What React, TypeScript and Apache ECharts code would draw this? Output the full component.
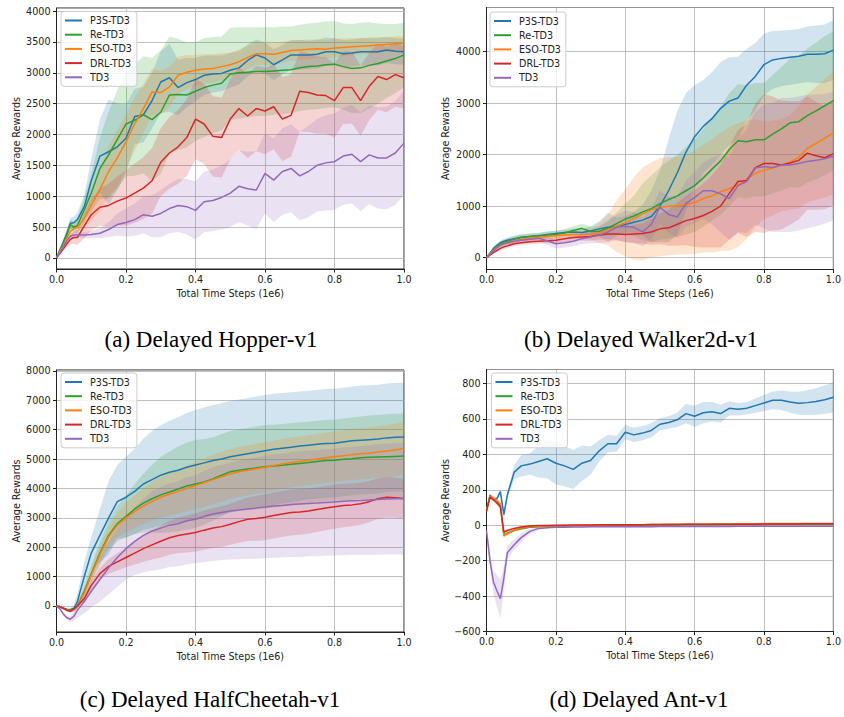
import React, { useEffect, useRef } from "react";
import * as echarts from "echarts";

// ---------- shared x grid (total time steps, 1e6) ----------
const X = [0, 0.01, 0.02, 0.03, 0.04, 0.05, 0.06, 0.08, 0.1, 0.125, 0.15, 0.175, 0.2, 0.225, 0.25, 0.275, 0.3, 0.325, 0.35, 0.375, 0.4, 0.425, 0.45, 0.475, 0.5, 0.525, 0.55, 0.575, 0.6, 0.625, 0.65, 0.675, 0.7, 0.725, 0.75, 0.775, 0.8, 0.825, 0.85, 0.875, 0.9, 0.925, 0.95, 0.975, 1];

const METHODS = ["P3S-TD3", "Re-TD3", "ESO-TD3", "DRL-TD3", "TD3"];
const COLORS = ["#1f77b4", "#2ca02c", "#ff7f0e", "#d62728", "#9467bd"];
const CAPTIONS = ["(a) Delayed Hopper-v1", "(b) Delayed Walker2d-v1", "(c) Delayed HalfCheetah-v1", "(d) Delayed Ant-v1"];
const X_TITLE = "Total Time Steps (1e6)";
const Y_TITLE = "Average Rewards";

// ---------- (a) Hopper ----------
const A_P3S_MEAN = [0, 130, 260, 400, 560, 570, 620, 830, 1250, 1650, 1720, 1800, 1940, 2290, 2320, 2550, 2850, 2920, 2760, 2840, 2890, 2960, 2980, 2990, 3040, 3080, 3200, 3290, 3240, 3130, 3210, 3290, 3290, 3290, 3300, 3340, 3340, 3310, 3320, 3340, 3340, 3340, 3370, 3350, 3340];
const A_P3S_SD = [0, 30, 50, 70, 90, 100, 110, 200, 350, 600, 850, 700, 550, 450, 450, 450, 500, 550, 450, 400, 350, 320, 300, 290, 280, 270, 260, 250, 250, 250, 240, 240, 240, 230, 230, 230, 220, 220, 220, 220, 220, 220, 210, 210, 210];
const A_RE_MEAN = [0, 120, 240, 380, 540, 500, 520, 780, 1050, 1450, 1670, 1920, 2170, 2230, 2320, 2240, 2360, 2640, 2650, 2640, 2700, 2760, 2800, 2830, 2980, 3000, 3010, 3020, 3020, 3030, 3040, 3050, 3080, 3100, 3110, 3130, 3140, 3100, 3070, 3080, 3120, 3150, 3190, 3230, 3290];
const A_RE_SD = [0, 30, 50, 70, 80, 90, 120, 200, 300, 500, 700, 800, 850, 900, 950, 1000, 1000, 950, 900, 850, 800, 800, 780, 760, 750, 740, 730, 720, 720, 710, 710, 700, 700, 700, 700, 700, 700, 700, 720, 730, 700, 650, 600, 560, 520];
const A_ESO_MEAN = [0, 100, 200, 320, 430, 470, 490, 640, 850, 1110, 1400, 1620, 1880, 2170, 2420, 2690, 2680, 2770, 2960, 3010, 3040, 3060, 3070, 3100, 3130, 3180, 3250, 3310, 3310, 3300, 3330, 3360, 3370, 3380, 3390, 3380, 3400, 3410, 3420, 3430, 3440, 3450, 3460, 3470, 3480];
const A_ESO_SD = [0, 20, 40, 50, 60, 70, 80, 150, 250, 350, 400, 450, 450, 430, 400, 380, 350, 330, 300, 280, 250, 240, 230, 220, 200, 195, 190, 185, 180, 175, 170, 165, 160, 160, 155, 150, 150, 145, 140, 135, 130, 125, 120, 120, 120];
const A_DRL_MEAN = [0, 70, 150, 230, 300, 330, 330, 520, 700, 820, 850, 920, 970, 1050, 1130, 1250, 1550, 1700, 1800, 1950, 2250, 2170, 1970, 1950, 2250, 2420, 2300, 2420, 2380, 2450, 2250, 2310, 2700, 2680, 2640, 2630, 2550, 2760, 2760, 2550, 2780, 2940, 2890, 2970, 2920];
const A_DRL_SD = [0, 20, 40, 60, 80, 100, 120, 200, 250, 300, 350, 400, 450, 480, 500, 530, 550, 580, 600, 620, 650, 650, 650, 650, 650, 670, 680, 690, 700, 690, 680, 670, 650, 640, 630, 620, 600, 590, 580, 570, 550, 540, 530, 520, 500];
const A_TD3_MEAN = [0, 80, 180, 280, 350, 370, 370, 370, 380, 400, 460, 540, 575, 620, 700, 675, 720, 800, 850, 830, 770, 910, 930, 980, 1050, 1160, 1120, 1100, 1370, 1260, 1400, 1450, 1330, 1400, 1500, 1540, 1560, 1650, 1680, 1560, 1670, 1620, 1620, 1700, 1860];
const A_TD3_SD = [0, 10, 20, 30, 40, 40, 40, 50, 60, 80, 120, 180, 230, 260, 300, 340, 380, 400, 430, 450, 470, 490, 500, 520, 550, 580, 600, 630, 650, 680, 700, 710, 720, 740, 750, 770, 780, 790, 800, 800, 800, 820, 830, 840, 850];

// ---------- (b) Walker2d ----------
const B_P3S_MEAN = [0, 90, 180, 240, 290, 320, 340, 370, 395, 410, 425, 450, 470, 490, 500, 490, 520, 560, 590, 600, 645, 690, 730, 800, 1000, 1300, 1650, 2050, 2350, 2550, 2700, 2900, 3040, 3100, 3350, 3520, 3750, 3840, 3870, 3890, 3910, 3950, 3950, 3960, 4030];
const B_P3S_SD = [0, 15, 30, 40, 45, 50, 50, 55, 55, 55, 55, 55, 55, 55, 60, 70, 90, 150, 280, 180, 160, 200, 300, 500, 700, 1000, 1200, 1150, 1000, 900, 900, 900, 850, 800, 700, 650, 600, 560, 540, 530, 530, 540, 560, 570, 580];
const B_RE_MEAN = [0, 80, 160, 220, 270, 300, 320, 360, 390, 410, 420, 440, 455, 480, 530, 570, 510, 515, 575, 660, 750, 810, 890, 950, 1050, 1130, 1200, 1300, 1400, 1550, 1720, 1880, 2100, 2270, 2250, 2290, 2290, 2400, 2500, 2620, 2640, 2760, 2850, 2950, 3050];
const B_RE_SD = [0, 15, 30, 40, 45, 50, 55, 60, 60, 65, 65, 70, 70, 75, 80, 90, 90, 100, 150, 220, 300, 400, 550, 650, 700, 750, 800, 850, 900, 950, 1000, 1050, 1100, 1100, 1100, 1100, 1100, 1150, 1200, 1250, 1280, 1300, 1330, 1350, 1350];
const B_ESO_MEAN = [0, 70, 140, 200, 240, 270, 290, 330, 360, 380, 395, 410, 425, 440, 450, 450, 455, 480, 540, 610, 680, 760, 850, 930, 980, 1000, 1010, 1030, 1070, 1150, 1200, 1280, 1340, 1410, 1520, 1640, 1700, 1740, 1800, 1850, 1950, 2120, 2220, 2320, 2420];
const B_ESO_SD = [0, 10, 20, 30, 35, 40, 40, 45, 45, 45, 50, 50, 55, 60, 70, 80, 100, 200, 300, 500, 650, 800, 900, 920, 950, 950, 950, 970, 1000, 1050, 1100, 1150, 1200, 1200, 1150, 1050, 950, 920, 900, 920, 1000, 1050, 1100, 1150, 1200];
const B_DRL_MEAN = [0, 50, 100, 140, 180, 210, 230, 270, 290, 310, 320, 330, 340, 370, 390, 400, 410, 440, 460, 460, 450, 460, 470, 500, 560, 580, 650, 720, 760, 820, 900, 1000, 1250, 1480, 1500, 1750, 1830, 1830, 1800, 1840, 1890, 2030, 1980, 1940, 2020];
const B_DRL_SD = [0, 10, 20, 30, 35, 40, 40, 45, 45, 50, 50, 50, 55, 60, 60, 70, 80, 90, 100, 120, 150, 180, 200, 250, 300, 350, 420, 480, 550, 620, 700, 800, 900, 1000, 1100, 1250, 1350, 1300, 1250, 1200, 1150, 1100, 1050, 1000, 1000];
const B_TD3_MEAN = [0, 60, 130, 190, 240, 270, 290, 320, 340, 360, 380, 330, 270, 290, 320, 370, 400, 440, 500, 590, 610, 590, 500, 650, 980, 840, 790, 1050, 1170, 1300, 1300, 1240, 1150, 1400, 1480, 1740, 1770, 1750, 1800, 1800, 1830, 1870, 1890, 1920, 1970];
const B_TD3_SD = [0, 10, 20, 30, 40, 45, 50, 55, 60, 60, 70, 80, 90, 90, 100, 110, 120, 150, 200, 250, 300, 300, 280, 300, 320, 350, 400, 450, 500, 550, 650, 750, 800, 900, 1000, 1100, 1200, 1250, 1300, 1300, 1300, 1300, 1280, 1260, 1250];

// ---------- (c) HalfCheetah ----------
const C_P3S_MEAN = [0, -30, -80, -120, -130, -80, 150, 1000, 1800, 2400, 3000, 3550, 3700, 3900, 4150, 4300, 4450, 4550, 4620, 4720, 4800, 4870, 4950, 5000, 5080, 5130, 5180, 5230, 5280, 5330, 5370, 5400, 5440, 5470, 5500, 5530, 5540, 5580, 5620, 5640, 5660, 5680, 5720, 5740, 5750];
const C_P3S_SD = [0, 20, 40, 60, 70, 100, 250, 500, 550, 900, 1250, 1250, 1380, 1450, 1550, 1650, 1700, 1750, 1800, 1850, 1870, 1880, 1890, 1900, 1900, 1900, 1900, 1900, 1900, 1890, 1880, 1870, 1860, 1850, 1850, 1850, 1850, 1850, 1850, 1850, 1850, 1850, 1850, 1850, 1850];
const C_RE_MEAN = [0, -30, -80, -120, -150, -120, 0, 500, 1100, 1800, 2400, 2800, 3050, 3300, 3500, 3650, 3780, 3880, 3980, 4080, 4150, 4220, 4320, 4450, 4570, 4620, 4660, 4700, 4740, 4760, 4790, 4820, 4850, 4880, 4920, 4950, 4960, 4990, 5010, 5040, 5060, 5070, 5080, 5090, 5100];
const C_RE_SD = [0, 20, 30, 40, 50, 60, 100, 200, 300, 400, 500, 600, 700, 850, 1000, 1150, 1300, 1380, 1450, 1480, 1500, 1460, 1420, 1400, 1380, 1390, 1400, 1410, 1420, 1410, 1400, 1400, 1400, 1390, 1380, 1380, 1380, 1390, 1400, 1410, 1420, 1430, 1440, 1450, 1450];
const C_ESO_MEAN = [0, -30, -90, -140, -170, -130, -20, 450, 1050, 1750, 2350, 2750, 3000, 3220, 3400, 3560, 3700, 3800, 3900, 4000, 4100, 4200, 4300, 4400, 4500, 4570, 4620, 4670, 4720, 4780, 4830, 4880, 4920, 4960, 5000, 5040, 5080, 5110, 5150, 5180, 5200, 5240, 5270, 5310, 5360];
const C_ESO_SD = [0, 20, 30, 40, 50, 60, 80, 150, 200, 280, 350, 420, 500, 560, 620, 660, 700, 730, 760, 780, 800, 820, 840, 850, 850, 850, 850, 850, 850, 850, 850, 850, 850, 850, 850, 855, 860, 860, 865, 865, 870, 880, 890, 900, 900];
const C_DRL_MEAN = [0, -30, -80, -150, -180, -100, 0, 250, 700, 1100, 1350, 1500, 1650, 1800, 1950, 2080, 2200, 2320, 2400, 2450, 2500, 2580, 2650, 2700, 2780, 2870, 2950, 2980, 3020, 3080, 3130, 3180, 3200, 3230, 3280, 3330, 3380, 3420, 3440, 3480, 3550, 3650, 3700, 3680, 3660];
const C_DRL_SD = [0, 20, 30, 40, 50, 50, 50, 100, 150, 200, 250, 290, 330, 390, 450, 500, 550, 580, 600, 630, 650, 670, 680, 690, 700, 720, 740, 760, 780, 780, 780, 780, 780, 770, 760, 755, 750, 740, 730, 720, 700, 690, 690, 680, 680];
const C_TD3_MEAN = [0, -100, -280, -400, -450, -350, -150, 150, 500, 900, 1300, 1650, 1950, 2200, 2400, 2550, 2650, 2750, 2800, 2900, 2950, 3050, 3130, 3180, 3230, 3270, 3300, 3330, 3370, 3400, 3420, 3450, 3470, 3490, 3500, 3520, 3540, 3560, 3580, 3590, 3610, 3620, 3640, 3650, 3650];
const C_TD3_SD = [0, 30, 60, 80, 100, 150, 250, 400, 550, 750, 900, 1000, 1050, 1150, 1250, 1350, 1400, 1420, 1450, 1480, 1500, 1550, 1600, 1620, 1650, 1680, 1700, 1720, 1750, 1760, 1770, 1780, 1800, 1800, 1810, 1815, 1820, 1830, 1840, 1850, 1870, 1880, 1890, 1900, 1900];

// ---------- (d) Ant ----------
const D_P3S_MEAN = [80, 170, 145, 150, 190, 60, 170, 300, 335, 345, 360, 375, 350, 335, 315, 350, 365, 420, 460, 460, 525, 510, 520, 535, 570, 580, 595, 630, 615, 635, 640, 630, 660, 655, 660, 675, 690, 705, 705, 695, 688, 692, 698, 708, 722];
const D_P3S_SD = [5, 10, 10, 10, 10, 15, 20, 40, 60, 60, 90, 110, 120, 115, 110, 100, 80, 60, 50, 45, 40, 40, 40, 40, 35, 35, 40, 55, 60, 60, 55, 50, 40, 35, 35, 40, 45, 50, 55, 60, 65, 70, 75, 80, 85];
const D_RE_MEAN = [85, 160, 148, 130, 110, -55, -45, -30, -20, -12, -8, -6, -5, -4, -3, -3, -2, -2, -1, -1, 0, 0, 0, 1, 1, 1, 2, 2, 2, 3, 3, 3, 3, 4, 4, 4, 4, 5, 5, 5, 5, 5, 6, 6, 6];
const D_RE_SD = [5, 10, 12, 12, 12, 10, 8, 6, 5, 3, 3, 3, 3, 3, 3, 3, 3, 3, 3, 3, 3, 3, 3, 3, 3, 3, 3, 3, 3, 3, 3, 3, 3, 3, 3, 3, 3, 3, 3, 3, 3, 3, 3, 3, 3];
const D_ESO_MEAN = [80, 165, 152, 140, 120, -60, -48, -28, -16, -9, -6, -4, -3, -2, -1, 0, 0, 1, 1, 2, 2, 3, 3, 4, 4, 5, 5, 6, 6, 6, 7, 7, 7, 8, 8, 8, 9, 9, 9, 9, 10, 10, 10, 10, 10];
const D_ESO_SD = [5, 12, 14, 14, 14, 12, 10, 8, 6, 4, 4, 4, 4, 4, 4, 4, 4, 4, 4, 4, 4, 4, 4, 4, 4, 4, 4, 4, 4, 4, 4, 4, 4, 4, 4, 4, 4, 4, 4, 4, 4, 4, 4, 4, 4];
const D_DRL_MEAN = [80, 158, 145, 125, 105, -38, -30, -18, -10, -5, -2, -1, 0, 0, 1, 1, 1, 2, 2, 2, 3, 3, 3, 4, 4, 4, 4, 5, 5, 5, 5, 6, 6, 6, 6, 6, 7, 7, 7, 7, 7, 8, 8, 8, 8];
const D_DRL_SD = [5, 10, 12, 12, 12, 10, 8, 6, 5, 3, 3, 3, 3, 3, 3, 3, 3, 3, 3, 3, 3, 3, 3, 3, 3, 3, 3, 3, 3, 3, 3, 3, 3, 3, 3, 3, 3, 3, 3, 3, 3, 3, 3, 3, 3];
const D_TD3_MEAN = [-30, -200, -320, -370, -415, -300, -155, -110, -70, -35, -18, -14, -12, -11, -10, -10, -9, -9, -9, -8, -8, -8, -8, -8, -7, -7, -7, -7, -7, -7, -7, -7, -7, -6, -6, -6, -6, -6, -6, -6, -6, -6, -6, -6, -6];
const D_TD3_SD = [10, 40, 60, 90, 110, 70, 40, 30, 25, 15, 8, 5, 3, 3, 3, 3, 3, 3, 3, 3, 3, 3, 3, 3, 3, 3, 3, 3, 3, 3, 3, 3, 3, 3, 3, 3, 3, 3, 3, 3, 3, 3, 3, 3, 3];

const MEANS = [
  [A_P3S_MEAN, A_RE_MEAN, A_ESO_MEAN, A_DRL_MEAN, A_TD3_MEAN],
  [B_P3S_MEAN, B_RE_MEAN, B_ESO_MEAN, B_DRL_MEAN, B_TD3_MEAN],
  [C_P3S_MEAN, C_RE_MEAN, C_ESO_MEAN, C_DRL_MEAN, C_TD3_MEAN],
  [D_P3S_MEAN, D_RE_MEAN, D_ESO_MEAN, D_DRL_MEAN, D_TD3_MEAN],
];
const SDS = [
  [A_P3S_SD, A_RE_SD, A_ESO_SD, A_DRL_SD, A_TD3_SD],
  [B_P3S_SD, B_RE_SD, B_ESO_SD, B_DRL_SD, B_TD3_SD],
  [C_P3S_SD, C_RE_SD, C_ESO_SD, C_DRL_SD, C_TD3_SD],
  [D_P3S_SD, D_RE_SD, D_ESO_SD, D_DRL_SD, D_TD3_SD],
];

// axis ranges and tick steps per panel
const Y_MIN = [-180, -229, -886, -600];
const Y_MAX = [4050, 4858, 8030, 879];
const Y_STEP = [500, 1000, 1000, 200];

// layout (px)
const GRIDS = [
  { left: 56.5, top: 8, width: 347.5, height: 261 },
  { left: 486.5, top: 7.5, width: 347, height: 262 },
  { left: 56.5, top: 370, width: 347.5, height: 262 },
  { left: 486.5, top: 369.5, width: 347, height: 262 },
];
const LEGEND_POS = [
  [61, 11.5],
  [490, 12],
  [61, 373],
  [491.5, 373],
];
const Y_NAME_GAP = [35, 36, 35.5, 36];
const CAPTION_POS = [
  [211, 339],
  [641, 339],
  [210, 699],
  [639, 699],
];

const FONT = "DejaVu Sans";
const FS = 9.6;
const BAND_ALPHA = 0.2;

function hexToRgba(hex: string, a: number) {
  const n = parseInt(hex.slice(1), 16);
  return `rgba(${(n >> 16) & 255},${(n >> 8) & 255},${n & 255},${a})`;
}

export default function App() {
  const ref = useRef<HTMLDivElement>(null);
  useEffect(() => {
    if (!ref.current) return;
    const chart = echarts.init(ref.current, undefined, { renderer: "svg" });

    const series: any[] = [];
    for (let p = 0; p < 4; p++) {
      for (let s = 0; s < METHODS.length; s++) {
        const mean = MEANS[p][s];
        const sd = SDS[p][s];
        const lo = mean.map((m, i) => m - sd[i]);
        const hi = mean.map((m, i) => m + sd[i]);
        const fill = hexToRgba(COLORS[s], BAND_ALPHA);
        series.push({
          type: "custom",
          name: `${METHODS[s]} band ${p}`,
          xAxisIndex: p,
          yAxisIndex: p,
          silent: true,
          z: 1,
          data: X.map((x, i) => [x, lo[i], hi[i]]),
          encode: { x: 0, y: [1, 2] },
          renderItem: (params: any, api: any) => {
            if (params.dataIndex !== 0) return null;
            const pts: number[][] = [];
            for (let i = 0; i < X.length; i++) pts.push(api.coord([X[i], hi[i]]));
            for (let i = X.length - 1; i >= 0; i--) pts.push(api.coord([X[i], lo[i]]));
            return {
              type: "polygon",
              shape: { points: pts },
              style: { fill, stroke: "none" },
              silent: true,
            };
          },
        });
      }
      for (let s = 0; s < METHODS.length; s++) {
        const mean = MEANS[p][s];
        series.push({
          type: "line",
          name: METHODS[s],
          xAxisIndex: p,
          yAxisIndex: p,
          data: X.map((x, i) => [x, mean[i]]),
          symbol: "none",
          lineStyle: { width: 1.5, color: COLORS[s] },
          itemStyle: { color: COLORS[s] },
          z: 3,
        });
      }
    }

    const axisText = { fontFamily: FONT, fontSize: FS, color: "#222" };

    const option: any = {
      animation: false,
      backgroundColor: "#ffffff",
      textStyle: { fontFamily: FONT },
      grid: GRIDS.map((g) => ({
        ...g,
        show: true,
        borderColor: "#222",
        borderWidth: 1,
        backgroundColor: "transparent",
        containLabel: false,
      })),
      xAxis: GRIDS.map((_, p) => ({
        type: "value",
        gridIndex: p,
        min: 0,
        max: 1,
        interval: 0.2,
        name: X_TITLE,
        nameLocation: "middle",
        nameGap: 19,
        nameTextStyle: axisText,
        axisLine: { show: true, onZero: false, lineStyle: { color: "#222", width: 1 } },
        axisTick: { show: true, length: 3.5, lineStyle: { color: "#222" } },
        axisLabel: { ...axisText, margin: 5, formatter: (v: number) => v.toFixed(1) },
        splitLine: { show: true, lineStyle: { color: "#b0b0b0", width: 0.8 } },
      })),
      yAxis: GRIDS.map((_, p) => ({
        type: "value",
        gridIndex: p,
        min: Y_MIN[p],
        max: Y_MAX[p],
        minInterval: Y_STEP[p],
        maxInterval: Y_STEP[p],
        name: Y_TITLE,
        nameLocation: "middle",
        nameGap: Y_NAME_GAP[p],
        nameTextStyle: axisText,
        axisLine: { show: true, onZero: false, lineStyle: { color: "#222", width: 1 } },
        axisTick: { show: true, length: 3.5, lineStyle: { color: "#222" } },
        axisLabel: {
          ...axisText,
          margin: 6,
          showMinLabel: Y_MIN[p] % Y_STEP[p] === 0,
          showMaxLabel: Y_MAX[p] % Y_STEP[p] === 0,
          formatter: (v: number) => String(v).replace("-", "\u2212"),
        },
        splitLine: { show: true, lineStyle: { color: "#b0b0b0", width: 0.8 } },
      })),
      legend: LEGEND_POS.map(([l, t]) => ({
        data: METHODS,
        orient: "vertical",
        left: l,
        top: t,
        icon: "path://M0,0L17,0L17,2L0,2Z",
        itemWidth: 17,
        itemHeight: 10,
        itemGap: 2.2,
        padding: [3, 5, 3, 4],
        backgroundColor: "rgba(255,255,255,0.8)",
        borderColor: "#cccccc",
        borderWidth: 1,
        borderRadius: 3,
        selectedMode: false,
        textStyle: { fontFamily: FONT, fontSize: FS, color: "#222", lineHeight: 12, padding: [0, 0, 0, 3] },
      })),
      graphic: CAPTIONS.map((c, i) => ({
        type: "text",
        x: CAPTION_POS[i][0],
        y: CAPTION_POS[i][1],
        style: {
          text: c,
          fill: "#000",
          fontSize: 23,
          fontFamily: "Liberation Serif",
          textAlign: "center",
          textVerticalAlign: "middle",
          align: "center",
          verticalAlign: "middle",
        },
      })),
      series,
    };

    chart.setOption(option);
    return () => chart.dispose();
  }, []);

  return (
    <div
      ref={ref}
      style={{ position: "fixed", left: 0, top: 0, width: 844, height: 717, background: "#fff" }}
    />
  );
}
